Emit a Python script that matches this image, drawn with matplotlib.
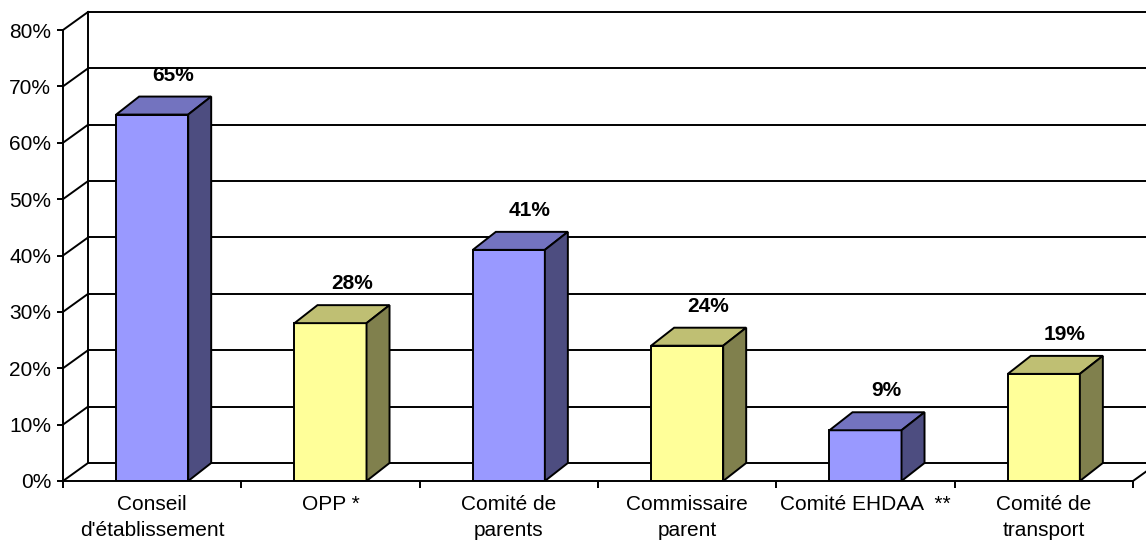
import matplotlib
matplotlib.use("Agg")
import matplotlib.pyplot as plt
from matplotlib.patches import Polygon

# data
categories = [
    "Conseil\nd'établissement",
    "OPP *",
    "Comité de\nparents",
    "Commissaire\nparent",
    "Comité EHDAA  **",
    "Comité de\ntransport",
]
values = [65, 28, 41, 24, 9, 19]
value_labels = ["65%", "28%", "41%", "24%", "9%", "19%"]
y_ticks = [0, 10, 20, 30, 40, 50, 60, 70, 80]
y_tick_labels = ["0%", "10%", "20%", "30%", "40%", "50%", "60%", "70%", "80%"]

# blue / yellow as front, top, side faces
faces = [
    ("#9999FF", "#7373BF", "#4D4D80"),
    ("#FFFF99", "#BFBF73", "#80804D"),
]

plt.rcParams["font.family"] = ["Liberation Sans", "DejaVu Sans"]
fs = 15

W, H = 1146, 546
fig = plt.figure(figsize=(W / 100, H / 100), dpi=100)
ax_w, ax_h = 1070, 451
ax = fig.add_axes([63 / W, 65 / H, ax_w / W, ax_h / H])
ax.set_xlim(-0.5, len(categories) - 0.5)
ax.set_ylim(0, 80)

# 3d depth, converted from pixels into data units
px_x = len(categories) / ax_w
px_y = 80 / ax_h
wall_dx, wall_dy = 25 * px_x, 18 * px_y
bar_dx, bar_dy = 23 * px_x, 18 * px_y
lw = 1.4
x0, x1 = -0.5, len(categories) - 0.5

# back wall, side wall and floor
for t in y_ticks:
    ax.plot([x0 + wall_dx, x1 + wall_dx], [t + wall_dy] * 2, color="black", lw=lw, clip_on=False, zorder=1)
    ax.plot([x0, x0 + wall_dx], [t, t + wall_dy], color="black", lw=lw, clip_on=False, zorder=1)
ax.plot([x0 + wall_dx] * 2, [wall_dy, 80 + wall_dy], color="black", lw=lw, clip_on=False, zorder=1)
ax.plot([x1, x1 + wall_dx], [0, wall_dy], color="black", lw=lw, clip_on=False, zorder=1)

# bars
bw = 0.404
for i, (v, lbl) in enumerate(zip(values, value_labels)):
    front, top, side = faces[i % 2]
    ax.bar(i, v, width=bw, color=front, edgecolor="black", lw=lw, zorder=3)
    l, r = i - bw / 2, i + bw / 2
    ax.add_patch(Polygon([(l, v), (l + bar_dx, v + bar_dy), (r + bar_dx, v + bar_dy), (r, v)],
                         closed=True, facecolor=top, edgecolor="black", lw=lw, zorder=3,
                         joinstyle="miter"))
    ax.add_patch(Polygon([(r, 0), (r + bar_dx, bar_dy), (r + bar_dx, v + bar_dy), (r, v)],
                         closed=True, facecolor=side, edgecolor="black", lw=lw, zorder=3,
                         joinstyle="miter"))
    ax.annotate(lbl, (i + bar_dx - 0.01, v + bar_dy), xytext=(0, 12), textcoords="offset pixels",
                ha="center", va="bottom", fontsize=fs, fontweight="bold", annotation_clip=False)

# axes
for s in ["top", "right"]:
    ax.spines[s].set_visible(False)
for s in ["left", "bottom"]:
    ax.spines[s].set_linewidth(lw)
    ax.spines[s].set_zorder(4)

ax.set_yticks(y_ticks, y_tick_labels)
ax.tick_params(axis="y", length=4.3, width=lw, pad=4.3, labelsize=fs)
ax.set_xticks(range(len(categories)), categories)
ax.tick_params(axis="x", which="major", length=0, pad=10, labelsize=fs)
ax.set_xticks([x0 + k for k in range(len(categories) + 1)], minor=True)
ax.tick_params(axis="x", which="minor", length=5, width=lw)
for t in ax.get_xticklabels():
    t.set_linespacing(1.45)

fig.savefig("out.png", dpi=100, facecolor="white")
